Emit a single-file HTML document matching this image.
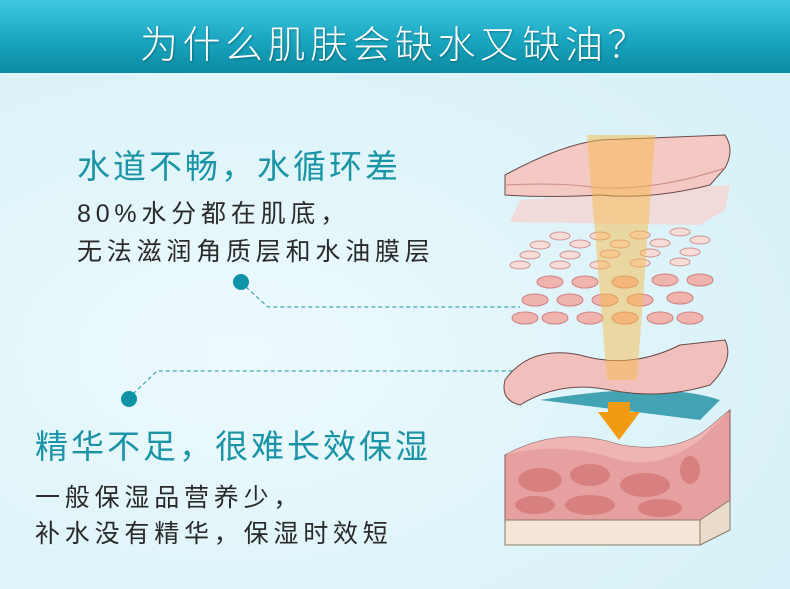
<!DOCTYPE html>
<html><head><meta charset="utf-8"><style>
body{margin:0;width:790px;height:589px;overflow:hidden;position:relative;font-family:"Liberation Sans","Noto Sans CJK SC",sans-serif;
background:radial-gradient(ellipse at 30% 60%,#eefafd 0%,#def4f9 50%,#d3f0f7 100%);}
.hd{position:absolute;left:0;top:0;width:790px;height:73px;background:linear-gradient(#40c8e2,#1aa6c0 55%,#0b8aa2);}
.hd div{position:absolute;left:0;width:790px;top:14px;text-align:center;color:#fff;font-size:38px;letter-spacing:4.5px;font-weight:300;text-shadow:1px 1px 2px rgba(0,0,0,.3);}
.t{position:absolute;white-space:nowrap;}
.h{color:#1b94a7;font-size:33px;letter-spacing:3px;}
.s{color:#2a2a2a;font-size:25px;letter-spacing:4.8px;}
</style></head><body>
<div class="hd"><div>为什么肌肤会缺水又缺油？</div></div>
<div class="t h" style="left:77px;top:140px">水道不畅，水循环差</div>
<div class="t s" style="left:77px;top:194px">80%水分都在肌底，</div>
<div class="t s" style="left:77px;top:232px">无法滋润角质层和水油膜层</div>
<div class="t h" style="left:35px;top:420px">精华不足，很难长效保湿</div>
<div class="t s" style="left:35px;top:478px">一般保湿品营养少，</div>
<div class="t s" style="left:35px;top:514px">补水没有精华，保湿时效短</div>
<svg width="790" height="589" style="position:absolute;left:0;top:0">
<g stroke="#1b94a7" stroke-width="1" stroke-dasharray="4,3" fill="none">
<path d="M246 287 L268 307 L520 307"/><path d="M133 394 L157 371 L515 371"/></g>
<circle cx="241" cy="282" r="8" fill="#0f93a8"/><circle cx="129" cy="399" r="8" fill="#0f93a8"/>
<path d="M540 400 Q660 380 720 400 L700 420 Z" fill="#1d8fa0" opacity=".8"/>
<path d="M505 455 Q560 425 620 445 Q680 455 712 425 L730 410 L730 530 L700 545 L505 545 Z" fill="#e7a0a0" stroke="#8a5a5a"/>
<path d="M505 455 Q560 425 620 445 Q680 455 712 425 L730 410 L700 440 Q660 470 620 460 Q560 440 505 455Z" fill="#efb5b3"/>
<rect x="505" y="520" width="195" height="25" fill="#f3e6d6" stroke="#8a7a6a"/>
<path d="M700 520 L730 500 L730 530 L700 545Z" fill="#e9dccb" stroke="#8a7a6a"/>
<g fill="#d7807f"><ellipse cx="540" cy="480" rx="22" ry="12"/><ellipse cx="590" cy="475" rx="20" ry="11"/><ellipse cx="645" cy="485" rx="25" ry="12"/><ellipse cx="690" cy="470" rx="10" ry="14"/><ellipse cx="535" cy="505" rx="20" ry="9"/><ellipse cx="590" cy="505" rx="25" ry="10"/><ellipse cx="660" cy="508" rx="22" ry="9"/></g>
<path d="M505 380 Q530 345 580 355 Q630 370 680 345 L725 340 Q735 360 710 385 Q660 400 610 390 Q560 380 520 405 Q500 400 505 380Z" fill="#f2c0bc" stroke="#6a4a4a"/>
<g fill="#f0b4ae" stroke="#d08080">
<ellipse cx="525" cy="318" rx="13" ry="6"/><ellipse cx="555" cy="318" rx="13" ry="6"/><ellipse cx="590" cy="318" rx="13" ry="6"/><ellipse cx="625" cy="318" rx="13" ry="6"/><ellipse cx="660" cy="318" rx="13" ry="6"/><ellipse cx="690" cy="318" rx="13" ry="6"/>
<ellipse cx="535" cy="300" rx="13" ry="6"/><ellipse cx="570" cy="300" rx="13" ry="6"/><ellipse cx="605" cy="300" rx="13" ry="6"/><ellipse cx="640" cy="300" rx="13" ry="6"/><ellipse cx="680" cy="298" rx="13" ry="6"/>
<ellipse cx="550" cy="282" rx="13" ry="6"/><ellipse cx="585" cy="282" rx="13" ry="6"/><ellipse cx="625" cy="282" rx="13" ry="6"/><ellipse cx="665" cy="280" rx="13" ry="6"/><ellipse cx="700" cy="280" rx="13" ry="6"/></g>
<g fill="#f7dcd8" stroke="#d09090">
<ellipse cx="520" cy="265" rx="10" ry="4"/><ellipse cx="560" cy="265" rx="10" ry="4"/><ellipse cx="600" cy="265" rx="10" ry="4"/><ellipse cx="640" cy="263" rx="10" ry="4"/><ellipse cx="680" cy="262" rx="10" ry="4"/>
<ellipse cx="530" cy="255" rx="10" ry="4"/><ellipse cx="570" cy="255" rx="10" ry="4"/><ellipse cx="610" cy="254" rx="10" ry="4"/><ellipse cx="650" cy="253" rx="10" ry="4"/><ellipse cx="690" cy="252" rx="10" ry="4"/>
<ellipse cx="540" cy="245" rx="10" ry="4"/><ellipse cx="580" cy="244" rx="10" ry="4"/><ellipse cx="620" cy="244" rx="10" ry="4"/><ellipse cx="660" cy="243" rx="10" ry="4"/><ellipse cx="700" cy="240" rx="10" ry="4"/>
<ellipse cx="560" cy="236" rx="10" ry="4"/><ellipse cx="600" cy="236" rx="10" ry="4"/><ellipse cx="640" cy="235" rx="10" ry="4"/><ellipse cx="680" cy="232" rx="10" ry="4"/></g>
<path d="M510 222 L520 200 L730 185 L725 210 L700 225 Z" fill="#f5d5d2" opacity=".8"/>
<path d="M505 175 Q560 145 600 140 L725 135 Q735 150 725 168 L710 185 Q650 200 600 195 Q550 198 505 195 Z" fill="#f4c8c3" stroke="#6a4a4a"/>
<path d="M505 185 Q560 182 600 188 Q660 190 725 168" fill="none" stroke="#c98a88"/>
<path d="M587 135 L655 135 L637 380 L607 380 Z" fill="#f6b94a" opacity=".5"/>
<path d="M608 402 L630 402 L630 412 L640 412 L619 440 L598 412 L608 412Z" fill="#f19b12"/>
</svg>
</body></html>
